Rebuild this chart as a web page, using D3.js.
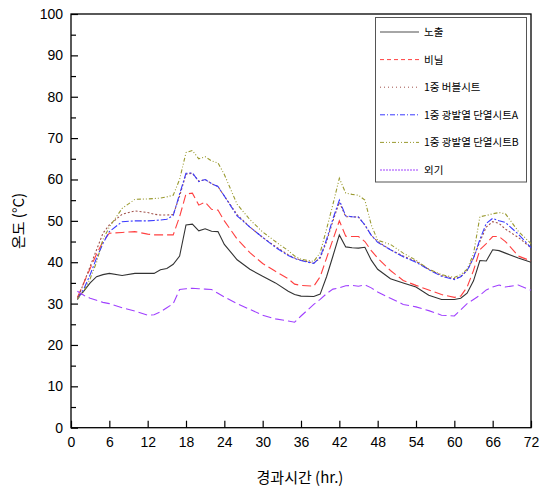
<!DOCTYPE html>
<html>
<head>
<meta charset="utf-8">
<script src="https://cdn.jsdelivr.net/npm/d3@7"></script>
<style>
  body { margin: 0; background: #fff; }
  text { font-family: "Liberation Sans", Arial, "Noto Sans CJK KR", sans-serif; }
  .kr { font-family: "Noto Sans CJK KR", "Liberation Sans", sans-serif; }
</style>
</head>
<body>
<div id="chart"></div>
<script>
const hours = [1, 2, 3, 4, 5, 6, 8, 10, 12, 13, 14, 15, 16, 17, 18, 19, 20, 21, 22, 23, 24, 26, 28, 30, 32, 34, 35, 36, 38, 39, 40, 41, 42, 43, 44, 45, 46, 47, 48, 50, 52, 54, 56, 58, 60, 61, 62, 63, 64, 65, 66, 67, 68, 70, 72];

const exposed = [31.5, 33, 35, 36.5, 37, 37.3, 36.8, 37.3, 37.3, 37.3, 38.2, 38.5, 39.5, 41.5, 49, 49.2, 47.6, 48.1, 47.5, 47.4, 44.3, 40.6, 38.3, 36.6, 35, 33, 32.2, 31.8, 31.7, 32.3, 36.5, 41.5, 46.6, 43.7, 43.5, 43.4, 43.6, 40.5, 38.3, 36, 35, 34, 32, 31, 31, 31.3, 32.5, 35.5, 40.4, 40.3, 43, 42.8, 42.2, 41, 40];
const vinyl = [31.5, 35, 38.5, 42, 45, 47, 47.2, 47.4, 46.8, 46.6, 46.6, 46.6, 46.6, 51, 56.5, 56.7, 53.8, 54.5, 52.8, 52.6, 50, 45.6, 42.3, 39.7, 37.8, 36, 34.7, 34.4, 34.2, 36.5, 41, 45.5, 50, 46.3, 46.2, 46.2, 45, 42.8, 41, 38, 35.6, 34.4, 33.3, 32.2, 31.5, 31.8, 34, 38, 43, 44.5, 46.2, 46.2, 45, 41.5, 40.3];
const bubble = [31, 35, 39, 43, 47, 49, 51.6, 52.4, 52, 51.6, 51.4, 51.4, 51.5, 56, 61.3, 61.5, 59.6, 60, 59, 58.3, 56, 51.5, 48.5, 46, 43.8, 41.8, 41, 40.5, 39.8, 41, 45, 50, 54.5, 51, 51, 50.9, 49, 46.5, 45, 43, 41.5, 40.2, 38.3, 36.8, 36, 36.5, 38, 41, 45, 48.5, 49.8, 49.4, 48, 46, 43.5];
const sheetA = [31, 33.5, 37, 41, 44.5, 47.4, 49.8, 50, 50, 50.1, 50.2, 50.4, 51.3, 56.5, 61.5, 61.6, 59.5, 60, 59, 58.3, 56, 51.2, 48.5, 46, 43.6, 41.6, 40.9, 40.4, 39.7, 41.2, 45.5, 50.5, 55, 51.2, 51, 50.9, 49, 46.5, 44.8, 43, 41.3, 40, 38.2, 36.6, 35.8, 36.5, 38, 41, 45.5, 49.4, 50.6, 50, 49.6, 46.8, 43.5];
const sheetB = [31, 33, 36, 40, 45.5, 48.5, 53, 55.2, 55.3, 55.4, 55.5, 55.8, 56.2, 60, 66.5, 67, 65, 65.5, 64.5, 64, 61.2, 54, 50.3, 47.3, 45, 42.8, 41.5, 40.7, 40.2, 42.3, 48, 54, 60.3, 56.7, 56.4, 56.2, 55, 49, 45.3, 44.3, 42.2, 40.5, 38.3, 37, 36.3, 37, 38.3, 42, 51, 51.3, 51.7, 52, 51.7, 47.5, 44.5];
const outside = [33, 32, 31.3, 30.8, 30.3, 30, 29, 28.2, 27.2, 27.3, 28, 29, 30, 33.4, 33.6, 33.7, 33.6, 33.5, 33.4, 32.5, 31.6, 30, 28.6, 27.2, 26.3, 25.8, 25.5, 27, 29.8, 31, 32.4, 33.5, 33.8, 34.3, 34.4, 34.2, 34.5, 33.8, 32.8, 31.3, 29.8, 29.2, 28.3, 27.2, 27, 28.5, 30, 31, 32, 33.3, 34, 34.5, 34, 34.5, 33.2];

const seriesNames = ["노출", "비닐", "1중 버블시트", "1중 광발열 단열시트A", "1중 광발열 단열시트B", "외기"];
const seriesValues = [exposed, vinyl, bubble, sheetA, sheetB, outside];

const xTicks = [0, 6, 12, 18, 24, 30, 36, 42, 48, 54, 60, 66, 72];
const yTicks = [0, 10, 20, 30, 40, 50, 60, 70, 80, 90, 100];
const yMinorTicks = [5, 15, 25, 35, 45, 55, 65, 75, 85, 95];

// styles
const colors = ["#333333", "#ff4040", "#a0504a", "#3a3aff", "#9a9a30", "#a040ff"];
const dashes = [null, "9,4", "2,2", "7,2,2,2", "4,2,1,2,1,2", "9,4"];
const legendColors = ["#888888", "#ff4040", "#a0504a", "#3a3aff", "#9a9a30", "#a040ff"];
const legendDashes = [null, "4,3", "1,3", "5,2,1,2", "4,2,1,2,1,2", "2,1"];

const W = 555, H = 493;
const pLeft = 71, pRight = 531, pTop = 14, pBottom = 427.7;

const svg = d3.select("#chart").append("svg")
  .attr("width", W).attr("height", H);

const x = d3.scaleLinear().domain([0, 72]).range([pLeft, pRight]);
const y = d3.scaleLinear().domain([0, 100]).range([pBottom, pTop]);

// frame
svg.append("rect")
  .attr("x", pLeft).attr("y", pTop)
  .attr("width", pRight - pLeft).attr("height", pBottom - pTop)
  .attr("fill", "none").attr("stroke", "#000").attr("stroke-width", 1.3);

// axes with inward ticks
const yAxis = svg.append("g")
  .attr("transform", `translate(${pLeft},0)`)
  .call(d3.axisLeft(y).tickValues(yTicks).tickSize(-7).tickSizeOuter(0).tickPadding(8));
svg.append("g")
  .attr("transform", `translate(${pLeft},0)`)
  .call(d3.axisLeft(y).tickValues(yMinorTicks).tickSize(-5).tickSizeOuter(0).tickFormat(""));
const xAxis = svg.append("g")
  .attr("transform", `translate(0,${pBottom})`)
  .call(d3.axisBottom(x).tickValues(xTicks).tickSize(-7).tickSizeOuter(0).tickPadding(9));

svg.selectAll(".domain").remove();
svg.selectAll(".tick line").attr("stroke", "#000").attr("stroke-width", 1.2);
yAxis.selectAll("text").attr("font-size", 14).attr("fill", "#000");
xAxis.selectAll("text").attr("font-size", 14).attr("fill", "#000");

// lines
const line = d3.line()
  .x((d, i) => x(hours[i]))
  .y(d => y(d));

seriesValues.forEach((vals, k) => {
  svg.append("path")
    .datum(vals)
    .attr("d", line)
    .attr("fill", "none")
    .attr("stroke", colors[k])
    .attr("stroke-width", 1.1)
    .attr("stroke-dasharray", dashes[k]);
});

// legend
const lg = svg.append("g");
lg.append("rect")
  .attr("x", 375.5).attr("y", 17.5).attr("width", 151).attr("height", 164.5)
  .attr("fill", "#fff").attr("stroke", "#555").attr("stroke-width", 1);

seriesNames.forEach((name, k) => {
  const ly = 34 + k * 27.6;
  lg.append("line")
    .attr("x1", 380).attr("x2", 419)
    .attr("y1", ly - 2).attr("y2", ly - 2)
    .attr("stroke", legendColors[k])
    .attr("stroke-width", k === 0 ? 1.6 : 1)
    .attr("stroke-dasharray", legendDashes[k]);
  lg.append("text")
    .attr("class", "kr")
    .attr("x", 424).attr("y", ly + 2)
    .attr("font-size", 10.5)
    .attr("fill", "#000")
    .text(name);
});

// axis titles
svg.append("text")
  .attr("class", "kr")
  .attr("x", 300).attr("y", 483)
  .attr("text-anchor", "middle")
  .attr("font-size", 15)
  .text("경과시간 (hr.)");

svg.append("text")
  .attr("class", "kr")
  .attr("transform", "translate(24,221) rotate(-90)")
  .attr("text-anchor", "middle")
  .attr("font-size", 15)
  .text("온도 (°C)");
</script>
</body>
</html>
